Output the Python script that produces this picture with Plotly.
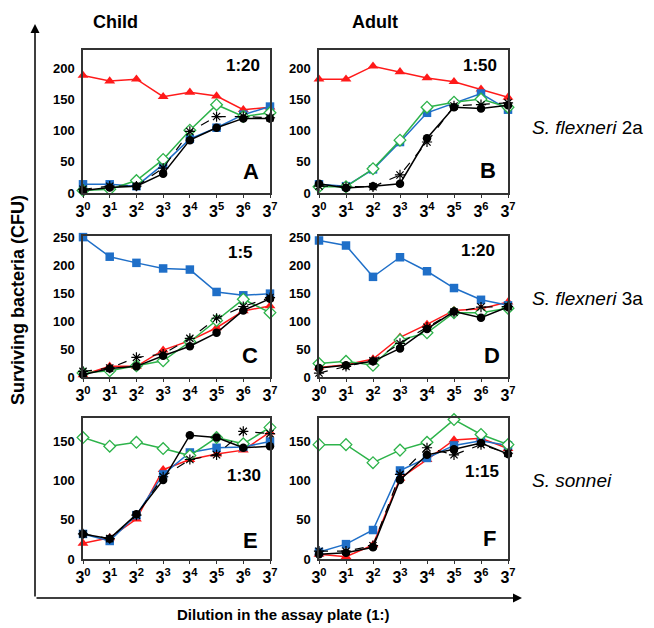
import plotly.graph_objects as go

W, H = 654, 628
OFF = 8  # page body margin offset compensation (pixels)
dilutions = [f"3<sup>{i}</sup>" for i in range(8)]
xpos = list(range(8))

# Panel data (CFU)
A_red   = [189, 180, 183, 155, 162, 156, 134, 138]
A_blue  = [14, 14, 11, 46, 87, 105, 126, 139]
A_green = [4, 6, 20, 54, 101, 142, 123, 129]
A_black = [4, 9, 11, 31, 85, 105, 120, 120]
A_star  = [6, 11, 11, 40, 99, 123, 123, 121]

B_red   = [183, 183, 204, 195, 185, 179, 167, 154]
B_blue  = [14, 11, 38, 82, 129, 144, 160, 134]
B_green = [10, 10, 39, 85, 138, 146, 151, 138]
B_black = [15, 8, 11, 15, 88, 138, 136, 141]
B_star  = [11, 10, 10, 29, 82, 140, 142, 145]

C_red   = [4, 19, 19, 48, 65, 88, 118, 127]
C_blue  = [250, 215, 204, 194, 192, 152, 146, 149]
C_green = [7, 11, 20, 29, 63, 101, 139, 115]
C_black = [4, 15, 19, 38, 55, 79, 119, 140]
C_star  = [10, 16, 35, 41, 69, 105, 126, 142]

D_red   = [17, 22, 32, 71, 94, 119, 122, 134]
D_blue  = [244, 235, 179, 214, 189, 159, 138, 128]
D_green = [24, 28, 21, 66, 79, 115, 115, 123]
D_black = [16, 21, 28, 51, 86, 117, 106, 125]
D_star  = [7, 19, 29, 60, 89, 116, 125, 126]

E_red   = [20, 27, 51, 114, 127, 134, 139, 162]
E_blue  = [32, 23, 56, 108, 136, 142, 143, 150]
E_green = [155, 144, 149, 141, 132, 155, 147, 168]
E_black = [32, 26, 57, 101, 158, 155, 142, 144]
E_star  = [32, 26, 56, 105, 127, 133, 163, 160]

F_red   = [6, 3, 18, 103, 127, 152, 154, 141]
F_blue  = [9, 19, 37, 113, 129, 145, 151, 145]
F_green = [146, 146, 123, 139, 149, 178, 159, 146]
F_black = [6, 8, 15, 101, 133, 140, 148, 134]
F_star  = [10, 10, 17, 108, 142, 133, 146, 135]

panel_letters = ["A", "B", "C", "D", "E", "F"]
ratios = ["1:20", "1:50", "1:5", "1:20", "1:30", "1:15"]
col_titles = ["Child", "Adult"]
row_labels = ["<i>S. flexneri</i> 2a", "<i>S. flexneri</i> 3a", "<i>S. sonnei</i>"]
y_ranges = [[0, 230], [0, 230], [0, 252], [0, 252], [0, 180], [0, 180]]
y_ticks = [[0, 50, 100, 150, 200], [0, 50, 100, 150, 200],
           [0, 50, 100, 150, 200, 250], [0, 50, 100, 150, 200, 250],
           [0, 50, 100, 150], [0, 50, 100, 150]]

panels = [
    (A_red, A_blue, A_green, A_black, A_star),
    (B_red, B_blue, B_green, B_black, B_star),
    (C_red, C_blue, C_green, C_black, C_star),
    (D_red, D_blue, D_green, D_black, D_star),
    (E_red, E_blue, E_green, E_black, E_star),
    (F_red, F_blue, F_green, F_black, F_star),
]

RED, BLUE, GREEN = "#FF1A1A", "#1F6FC8", "#2DB34A"
FONT = "Arial, Liberation Sans, sans-serif"


def fx(px):
    return (px - OFF) / W


def fy(py):
    return 1 - (py - OFF) / H


# panel pixel boxes (target screen pixels)
col_x = [(83, 270), (319, 508)]
row_y = [(50, 193), (236, 377), (418, 559)]

fig = go.Figure()
layout = {}
for i, series in enumerate(panels):
    r, c = divmod(i, 2)
    x0, x1 = col_x[c]
    yt, yb = row_y[r]
    n = "" if i == 0 else str(i + 1)
    xa, ya = "x" + n, "y" + n
    red, blue, green, black, star = series
    common = dict(x=xpos, xaxis=xa, yaxis=ya, mode="lines+markers",
                  showlegend=False, cliponaxis=False)
    fig.add_trace(go.Scatter(y=red, line=dict(color=RED, width=1.5),
                             marker=dict(symbol="triangle-up", size=9.5, color=RED), **common))
    fig.add_trace(go.Scatter(y=blue, line=dict(color=BLUE, width=1.5),
                             marker=dict(symbol="square", size=8.5, color=BLUE), **common))
    fig.add_trace(go.Scatter(y=green, line=dict(color=GREEN, width=1.5),
                             marker=dict(symbol="diamond", size=9, color="white",
                                         line=dict(color=GREEN, width=1.3)), **common))
    fig.add_trace(go.Scatter(y=black, line=dict(color="black", width=1.5),
                             marker=dict(symbol="circle", size=8.5, color="black"), **common))
    fig.add_trace(go.Scatter(y=star, line=dict(color="black", width=1.2, dash="dash"),
                             marker=dict(symbol="asterisk-open", size=8.5, color="black",
                                         line=dict(color="black", width=1.2)), **common))
    layout["xaxis" + n] = dict(
        domain=[fx(x0), fx(x1)], anchor=ya, range=[0, 7], automargin=False,
        tickvals=xpos, ticktext=dilutions, ticks="outside", ticklen=3,
        tickcolor="#333", showgrid=False, zeroline=False, showline=True,
        linecolor="#333", linewidth=1.5, mirror=True,
        tickfont=dict(family=FONT, size=16, color="black", weight="bold"))
    layout["yaxis" + n] = dict(
        domain=[fy(yb), fy(yt)], anchor=xa, range=y_ranges[i], automargin=False,
        tickvals=y_ticks[i], ticks="", showgrid=False, zeroline=False,
        showline=True, linecolor="#333", linewidth=1.5, mirror=True,
        ticklabelstandoff=4,
        tickfont=dict(family=FONT, size=13, color="black", weight="bold"))

fig.update_layout(**layout)

ann = []
ratio_pos = [(243, 65), (480, 65), (240, 252), (478, 250), (244, 475), (482, 472)]
letter_pos = [(251, 172), (488, 170), (250, 355), (492, 355), (250, 540), (490, 538)]
for i in range(6):
    px, py = ratio_pos[i]
    ann.append(dict(x=fx(px), y=fy(py), xref="paper", yref="paper",
                    xanchor="center", yanchor="middle",
                    text=ratios[i], showarrow=False,
                    font=dict(family=FONT, size=17, color="black", weight="bold")))
    px, py = letter_pos[i]
    ann.append(dict(x=fx(px), y=fy(py), xref="paper", yref="paper",
                    xanchor="center", yanchor="middle",
                    text=panel_letters[i], showarrow=False,
                    font=dict(family=FONT, size=22, color="black", weight="bold")))

for t, px in zip(col_titles, [115, 375]):
    ann.append(dict(x=fx(px), y=fy(22), xref="paper", yref="paper", text=t,
                    xanchor="center", yanchor="middle", showarrow=False,
                    font=dict(family=FONT, size=18, color="black", weight="bold")))
for t, py in zip(row_labels, [128, 298, 480]):
    ann.append(dict(x=fx(530), y=fy(py), xref="paper", yref="paper", text=t,
                    showarrow=False, xanchor="left", yanchor="middle",
                    font=dict(family=FONT, size=19, color="black")))

ann.append(dict(x=fx(18), y=fy(300), xref="paper", yref="paper",
                xanchor="center", yanchor="middle",
                text="Surviving bacteria (CFU)", showarrow=False, textangle=-90,
                font=dict(family=FONT, size=18, color="black", weight="bold")))
ann.append(dict(x=fx(283), y=fy(614), xref="paper", yref="paper",
                xanchor="center", yanchor="middle",
                text="Dilution in the assay plate (1:)", showarrow=False,
                font=dict(family=FONT, size=15, color="black", weight="bold")))

# Outer arrow axes
ann.append(dict(x=fx(35), y=fy(24), xref="paper", yref="paper", text="",
                showarrow=True, ax=0, ay=574, arrowhead=2, arrowsize=1.2,
                arrowwidth=1.5, arrowcolor="black"))
ann.append(dict(x=fx(522), y=fy(598), xref="paper", yref="paper", text="",
                showarrow=True, ax=-487, ay=0, arrowhead=2, arrowsize=1.2,
                arrowwidth=1.5, arrowcolor="black"))

fig.update_layout(width=W, height=H, margin=dict(l=0, r=0, t=0, b=0),
                  plot_bgcolor="white", paper_bgcolor="white", annotations=ann)

fig.write_html("out.html")
